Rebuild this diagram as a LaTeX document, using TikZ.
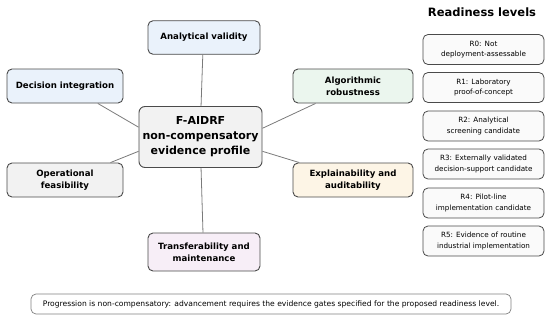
\documentclass[tikz,border=0pt]{standalone}
\usepackage{fontspec}
\setmainfont{DejaVu Sans}
\definecolor{bordc}{HTML}{4A4A4A}
\definecolor{linec}{HTML}{7A7A7A}
\definecolor{fblue}{HTML}{EAF2FB}
\definecolor{fgreen}{HTML}{EBF6EE}
\definecolor{forange}{HTML}{FDF5E6}
\definecolor{fpink}{HTML}{F7EEF7}
\definecolor{fgray}{HTML}{F2F2F2}
\definecolor{frl}{HTML}{FAFAFA}
\begin{document}
\begin{tikzpicture}[x=1pt,y=-1pt,
  sat/.style={draw=bordc, line width=0.9pt, rounded corners=5pt, align=center,
    font=\fontsize{8.6}{12}\selectfont\bfseries, inner sep=0pt},
  cenbox/.style={draw=bordc, line width=0.9pt, rounded corners=6pt, align=center,
    font=\fontsize{11}{15}\selectfont\bfseries, fill=fgray, inner sep=0pt,
    minimum width=123pt, minimum height=61pt},
  rlbox/.style={draw=bordc, line width=0.8pt, rounded corners=5pt, align=center,
    font=\fontsize{7.2}{10.8}\selectfont, fill=frl, inner sep=0pt,
    minimum width=121pt, minimum height=30pt},
  conn/.style={draw=linec, line width=0.8pt}
]
\useasboundingbox (0,0) rectangle (550,319);

\node[cenbox] (cen) at (200.5,137) {F-AIDRF\\non-compensatory\\evidence profile};

\node[sat, fill=fblue, minimum width=112pt, minimum height=33.5pt] (ana) at (204,37.5) {Analytical validity};
\node[sat, fill=fblue, minimum width=116pt, minimum height=34pt] (dec) at (65,86) {Decision integration};
\node[sat, fill=fgray, minimum width=116pt, minimum height=34pt] (ope) at (65,180) {Operational\\feasibility};
\node[sat, fill=fpink, minimum width=112pt, minimum height=38pt] (tra) at (204,252) {Transferability and\\maintenance};
\node[sat, fill=fgreen, minimum width=120pt, minimum height=34pt] (alg) at (353,86) {Algorithmic\\robustness};
\node[sat, fill=forange, minimum width=120pt, minimum height=34pt] (exp) at (353,180) {Explainability and\\auditability};

\draw[conn] (ana.-94.4) -- (cen.89);
\draw[conn] (tra.93.9) -- (cen.-89);
\draw[conn] (dec.-28.6) -- (cen.171.1);
\draw[conn] (ope.21.1) -- (cen.193.3);
\draw[conn] (alg.205.5) -- (cen.8.9);
\draw[conn] (exp.162.7) -- (cen.-13.3);

\node[font=\fontsize{11.5}{14}\selectfont\bfseries] (title) at (482,12.5) {Readiness levels};

\node[rlbox] (r0) at (483.5,49.5) {R0: Not\\deployment-assessable};
\node[rlbox] (r1) at (483.5,87.5) {R1: Laboratory\\proof-of-concept};
\node[rlbox] (r2) at (483.5,126) {R2: Analytical\\screening candidate};
\node[rlbox] (r3) at (483.5,164) {R3: Externally validated\\decision-support candidate};
\node[rlbox] (r4) at (483.5,203) {R4: Pilot-line\\implementation candidate};
\node[rlbox] (r5) at (483.5,241) {R5: Evidence of routine\\industrial implementation};

\node[draw=bordc!70, line width=0.7pt, rounded corners=5pt, fill=white,
  minimum width=480pt, minimum height=20pt, inner sep=0pt,
  font=\fontsize{7.6}{9}\selectfont] (note) at (271,304)
  {Progression is non-compensatory: advancement requires the evidence gates specified for the proposed readiness level.};
\end{tikzpicture}
\end{document}
